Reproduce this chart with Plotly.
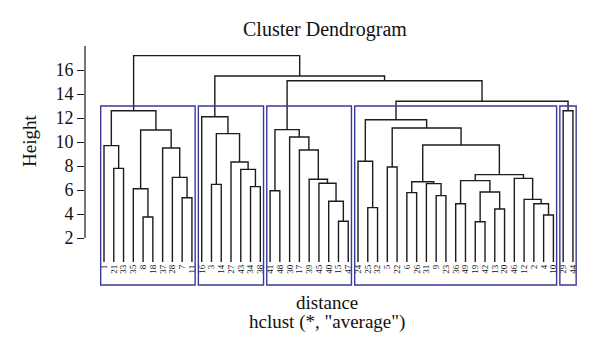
import plotly.graph_objects as go

# ---------------- data ----------------
leaf_order = [1, 21, 33, 35, 8, 18, 37, 28, 7, 11,
              16, 3, 14, 27, 43, 34, 38,
              41, 48, 30, 17, 39, 45, 40, 15, 47,
              24, 25, 32, 5, 22, 6, 26, 31, 9, 23, 36, 49, 19, 42, 13, 20, 46, 12, 2, 4, 10,
              29, 44]

# hclust-style merge table: negative = leaf label, positive = earlier merge (1-based)
merge_left = [-8, -7, -28, -37, -35, 5, -21, -1, 8,
              -34, -43, -27, -3, 13, -16,
              -15, -40, -45, -39, -17, -30, -41, 22,
              -25, -24, -5, -6, -9, -31, 27, -36, -19, -13, 32, 31, -4, -2, -12, -46, 35, 30, 26, 25,
              -29, 43, 23, 15, 9]
merge_right = [-18, -11, 2, 3, 1, 4, -33, 7, 6,
               -38, 10, 11, -14, 12, 14,
               -47, 16, 17, 18, 19, 20, -48, 21,
               -32, 24, -22, -26, -23, 28, 29, -49, -42, -20, 33, 34, -10, 36, 37, 38, 39, 40, 41, 42,
               -44, 44, 45, 46, 47]
merge_height = [3.75, 5.36, 7.05, 9.5, 6.1, 11.0, 7.8, 9.7, 12.6,
                6.28, 7.72, 8.33, 6.47, 10.7, 12.1,
                3.39, 5.06, 6.56, 6.89, 9.33, 10.42, 5.94, 11.03,
                4.53, 8.39, 7.92, 5.78, 5.53, 6.53, 6.69, 4.86, 3.36, 4.42, 5.83, 6.78, 3.92, 4.86, 5.22,
                6.97, 7.28, 9.75, 11.17, 11.86,
                12.61, 13.4, 15.1, 15.5, 17.2]
n_clusters = 5
y_ticks = [2, 4, 6, 8, 10, 12, 14, 16]

# ---------------- geometry ----------------
leaf_pos = {lab: i + 1 for i, lab in enumerate(leaf_order)}
node_x, node_h, node_leaves = {}, {}, {}

def child_info(c):
    if c < 0:
        return leaf_pos[-c], 0.0, [-c]
    return node_x[c], node_h[c], node_leaves[c]

xs, ys = [], []
for k, (a, b, h) in enumerate(zip(merge_left, merge_right, merge_height), start=1):
    xa, ha, la = child_info(a)
    xb, hb, lb = child_info(b)
    xs += [xa, xa, xb, xb, None]
    ys += [ha, h, h, hb, None]
    node_x[k] = (xa + xb) / 2
    node_h[k] = h
    node_leaves[k] = la + lb

# cut into clusters
n_merge = len(merge_height)
groups = [n_merge]
while len(groups) < n_clusters:
    top = max([g for g in groups if g > 0], key=lambda g: node_h[g])
    groups.remove(top)
    groups += [merge_left[top - 1], merge_right[top - 1]]
cl_sets = []
for g in groups:
    leaves = [-g] if g < 0 else node_leaves[g]
    cl_sets.append(sorted(leaf_pos[l] for l in leaves))
cl_sets.sort(key=lambda s: s[0])
hs = sorted(merge_height, reverse=True)
box_top = (hs[n_clusters - 2] + hs[n_clusters - 1]) / 2
y_lo, y_hi = -2.0, 18.5
box_bottom = -1.92

fig = go.Figure()
fig.add_trace(go.Scatter(x=xs, y=ys, mode="lines",
                         line=dict(color="#1c1c1c", width=1.4),
                         hoverinfo="skip", showlegend=False))

shapes = []
for s in cl_sets:
    shapes.append(dict(type="rect", xref="x", yref="y",
                       x0=s[0] - 1 + 0.66, x1=s[-1] + 0.33,
                       y0=box_bottom, y1=box_top,
                       line=dict(color="#3a3a9c", width=1.4)))
shapes.append(dict(type="line", xref="paper", yref="y", x0=0, x1=0,
                   y0=2, y1=18, line=dict(color="#1c1c1c", width=1.2)))

serif = "Liberation Serif, Times New Roman, serif"

def note(text, px, py, size=19, angle=0):
    return dict(text=text, xref="paper", yref="paper",
                x=(px - 85) / 498, y=(286 - py) / 246,
                xanchor="center", yanchor="middle", textangle=angle,
                showarrow=False, font=dict(family=serif, size=size, color="#111"))

fig.update_layout(
    width=600, height=354,
    margin=dict(l=85, r=17, t=40, b=68),
    paper_bgcolor="white", plot_bgcolor="white",
    shapes=shapes,
    xaxis=dict(range=[-0.945, 50.03], tickmode="array",
               tickvals=list(range(1, len(leaf_order) + 1)),
               ticktext=[str(l) for l in leaf_order],
               tickangle=-90, tickfont=dict(family=serif, size=9, color="#111"),
               anchor="free", position=(0 - y_lo) / (y_hi - y_lo),
               showline=False, ticks="", showgrid=False, zeroline=False),
    yaxis=dict(range=[y_lo, y_hi], tickmode="array", tickvals=y_ticks,
               ticks="outside", ticklen=7, tickwidth=1.2, tickcolor="#1c1c1c",
               tickfont=dict(family=serif, size=18, color="#111"),
               showline=False, showgrid=False, zeroline=False),
    annotations=[
        note("Cluster Dendrogram", 325, 29, size=20),
        note("Height", 29, 141, angle=-90),
        note("distance", 326.5, 302),
        note('hclust (*, "average")', 326.5, 322),
    ],
)

fig.write_html("out.html")
